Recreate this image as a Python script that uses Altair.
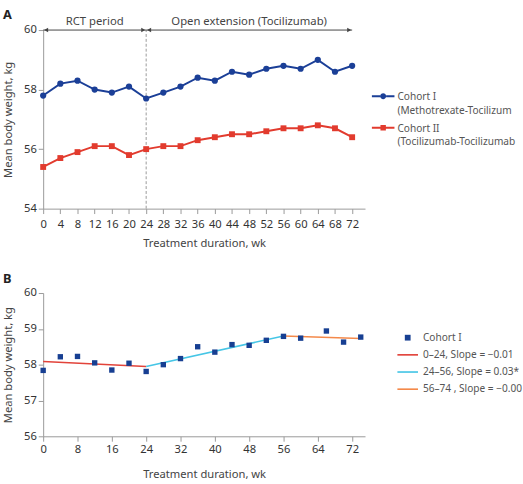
import json
import altair as alt
import pandas as pd

# ---------------- data ----------------
weeks_a = [0, 4, 8, 12, 16, 20, 24, 28, 32, 36, 40, 44, 48, 52, 56, 60, 64, 68, 72]
cohort1_a = [57.8, 58.2, 58.3, 58.0, 57.9, 58.1, 57.7, 57.9, 58.1, 58.4, 58.3, 58.6,
             58.5, 58.7, 58.8, 58.7, 59.0, 58.6, 58.8]
cohort2_a = [55.4, 55.7, 55.9, 56.1, 56.1, 55.8, 56.0, 56.1, 56.1, 56.3, 56.4, 56.5,
             56.5, 56.6, 56.7, 56.7, 56.8, 56.7, 56.4]
series_a = ["Cohort I", "Cohort II"]
legend_lines_a = [["Cohort I", "(Methotrexate-Tocilizumab)"],
                  ["Cohort II", "(Tocilizumab-Tocilizumab)"]]
colors_a = ["#1b3f97", "#e23b2e"]
shapes_a = ["circle", "square"]

periods = ["RCT period", "Open extension (Tocilizumab)"]
period_start = [0, 24]
period_end = [24, 72]
divider_week = [24]

weeks_b = [0, 4, 8, 12, 16, 20, 24, 28, 32, 36, 40, 44, 48, 52, 56, 60, 66, 70, 74]
cohort1_b = [57.84, 58.22, 58.23, 58.05, 57.85, 58.04, 57.81, 58.0, 58.17, 58.5, 58.35,
             58.56, 58.54, 58.68, 58.79, 58.74, 58.94, 58.63, 58.77]
seg_labels = ["0\u201324, Slope = \u22120.01", "24\u201356, Slope = 0.03*",
              "56\u201374 , Slope = \u22120.00"]
seg_x0 = [0, 24, 56]
seg_x1 = [24, 56, 74]
seg_y0 = [58.09, 57.95, 58.80]
seg_y1 = [57.95, 58.80, 58.73]
series_b = ["Cohort I"] + seg_labels
colors_b = ["#173f92", "#e2433a", "#46c6e6", "#f4894a"]

x_domain = [0, 75]
y_domain_a = [54, 60]
y_domain_b = [56, 60]
x_ticks_a = list(range(0, 73, 4))
x_ticks_b = list(range(0, 73, 8))
y_ticks_a = [54, 56, 58, 60]
y_ticks_b = [56, 57, 58, 59, 60]

FONT = "Noto Sans"

# ---------------- tables ----------------
df_a = pd.DataFrame({
    "week": weeks_a * 2,
    "weight": cohort1_a + cohort2_a,
    "series": [series_a[0]] * len(weeks_a) + [series_a[1]] * len(weeks_a),
})
df_periods = pd.DataFrame({
    "label": periods,
    "start": period_start,
    "end": period_end,
    "mid": [(s + e) / 2 for s, e in zip(period_start, period_end)],
})
df_div = pd.DataFrame({"week": divider_week})
df_b = pd.DataFrame({"week": weeks_b, "weight": cohort1_b, "series": "Cohort I"})
df_seg = pd.DataFrame({"x0": seg_x0, "x1": seg_x1, "y0": seg_y0, "y1": seg_y1,
                       "series": seg_labels})


def xaxis(values, label_pad, title_pad):
    return alt.Axis(values=values, title="Treatment duration, wk", tickSize=5,
                    labelPadding=label_pad, titlePadding=title_pad, grid=False,
                    labelOverlap=False, labelFlush=False)


def yaxis(values):
    return alt.Axis(values=values, title="Mean body weight, kg", tickSize=5,
                    labelPadding=2, titlePadding=10, grid=False)


# ---------------- panel A ----------------
xsA = alt.Scale(domain=x_domain, nice=False)
ysA = alt.Scale(domain=y_domain_a, nice=False, zero=False)


def xa(field):
    return alt.X(field, scale=xsA, axis=xaxis(x_ticks_a, 5, 8))


yA = alt.Y("weight:Q", scale=ysA, axis=yaxis(y_ticks_a))

sym_a = {
    "Cohort I": "M-1,-0.437H-0.26V-0.263H-1Z M0.26,-0.437H1V-0.263H0.26Z "
                "M0.26,-0.35A0.26,0.26 0 1 1 -0.26,-0.35A0.26,0.26 0 1 1 0.26,-0.35Z",
    "Cohort II": "M-1,-0.437H-0.24V-0.263H-1Z M0.24,-0.437H1V-0.263H0.24Z "
                 "M-0.24,-0.59H0.24V-0.11H-0.24Z",
}
sym_expr_a = "datum.value === %s ? %s : %s" % (
    json.dumps(series_a[0]), json.dumps(sym_a[series_a[0]]), json.dumps(sym_a[series_a[1]]))
label_expr_a = "datum.value === %s ? %s : %s" % (
    json.dumps(series_a[0]), json.dumps(legend_lines_a[0]), json.dumps(legend_lines_a[1]))

legend_a = alt.Legend(title=None, orient="none", legendX=335, legendY=60,
                      symbolType={"expr": sym_expr_a}, symbolSize=529,
                      symbolStrokeWidth=0, labelExpr=label_expr_a,
                      labelBaseline="alphabetic", labelOffset=3, rowPadding=4,
                      padding=0, labelLimit=121)
color_a = alt.Color("series:N", scale=alt.Scale(domain=series_a, range=colors_a),
                    legend=legend_a)

divider = alt.Chart(df_div).mark_rule(color="#999", strokeDash=[3, 2], strokeWidth=1).encode(
    x=xa("week:Q"),
    y=alt.Y(datum=y_domain_a[0], scale=ysA, axis=yaxis(y_ticks_a)),
    y2=alt.Y2(datum=y_domain_a[1]))
arrows = alt.Chart(df_periods).mark_rule(color="#444", strokeWidth=1).encode(
    x=xa("start:Q"), x2="end:Q", y=alt.Y(datum=y_domain_a[1]))
heads_l = alt.Chart(df_periods).mark_point(shape="triangle-left", filled=True, size=22,
                                           color="#444", opacity=1, xOffset=3).encode(
    x=xa("start:Q"), y=alt.Y(datum=y_domain_a[1]))
heads_r = alt.Chart(df_periods).mark_point(shape="triangle-right", filled=True, size=22,
                                           color="#444", opacity=1, xOffset=-3).encode(
    x=xa("end:Q"), y=alt.Y(datum=y_domain_a[1]))
period_text = alt.Chart(df_periods).mark_text(font=FONT, fontSize=11.5, color="#444",
                                              dy=-8, baseline="middle").encode(
    x=xa("mid:Q"), y=alt.Y(datum=y_domain_a[1]), text="label:N")

layers_a = [divider, arrows, heads_l, heads_r, period_text]
for name, col in zip(series_a, colors_a):
    layers_a.append(alt.Chart(df_a).transform_filter(alt.datum.series == name)
                    .mark_line(strokeWidth=2, color=col).encode(x=xa("week:Q"), y=yA))
for name, shp, sz in zip(series_a, shapes_a, [40, 36]):
    layers_a.append(alt.Chart(df_a).transform_filter(alt.datum.series == name)
                    .mark_point(filled=True, size=sz, opacity=1, shape=shp)
                    .encode(x=xa("week:Q"), y=yA, color=color_a))

panel_a = alt.layer(*layers_a).properties(
    width=328, height=182,
    title=alt.TitleParams("A", anchor="start", offset=-6, fontSize=13, fontWeight="bold",
                          font=FONT, color="#222"))

# ---------------- panel B ----------------
xsB = alt.Scale(domain=x_domain, nice=False)
ysB = alt.Scale(domain=y_domain_b, nice=False, zero=False)

sq_b = "M-0.28,-0.28H0.28V0.28H-0.28Z"
bar_b = "M-1,-0.08H1V0.08H-1Z"
sym_expr_b = "datum.value === %s ? %s : %s" % (json.dumps(series_b[0]), json.dumps(sq_b),
                                             json.dumps(bar_b))
legend_b = alt.Legend(title=None, orient="none", legendX=361, legendY=35,
                      symbolType={"expr": sym_expr_b}, symbolSize=441,
                      symbolStrokeWidth=0, labelOffset=5, rowPadding=1.5,
                      padding=0, labelLimit=110)

segs = alt.Chart(df_seg).mark_rule(strokeWidth=1.6).encode(
    x=alt.X("x0:Q", scale=xsB, axis=xaxis(x_ticks_b, 3, 14)),
    x2="x1:Q",
    y=alt.Y("y0:Q", scale=ysB, axis=yaxis(y_ticks_b)),
    y2="y1:Q",
    stroke=alt.Stroke("series:N", scale=alt.Scale(domain=seg_labels, range=colors_b[1:]),
                      legend=None))
points_b = alt.Chart(df_b).mark_point(shape="square", filled=True, size=30, opacity=1).encode(
    x=alt.X("week:Q", scale=xsB, axis=xaxis(x_ticks_b, 3, 14)),
    y=alt.Y("weight:Q", scale=ysB, axis=yaxis(y_ticks_b)),
    color=alt.Color("series:N", scale=alt.Scale(domain=series_b, range=colors_b), legend=legend_b))

panel_b = alt.layer(segs, points_b).properties(
    width=328, height=146,
    title=alt.TitleParams("B", anchor="start", offset=1, fontSize=13, fontWeight="bold",
                          font=FONT, color="#222"))

chart = alt.vconcat(panel_a, panel_b, spacing=25).resolve_scale(
    color="independent", stroke="independent").properties(
    padding={"left": 2, "top": 5, "right": 0, "bottom": 0}
).configure(style={"guide-label": {"ellipsis": "\u200b", "lineHeight": 13.7}}
).configure_view(stroke=None).configure_axis(
    labelFont=FONT, titleFont=FONT, labelFontSize=11.4, titleFontSize=11.4,
    labelColor="#333", titleColor="#444", titleFontWeight="normal",
    domainColor="#999", tickColor="#999"
).configure_legend(labelFont=FONT, labelFontSize=10.3, labelColor="#555")

chart.save("out.html", embed_options={"renderer": "svg", "actions": False})
